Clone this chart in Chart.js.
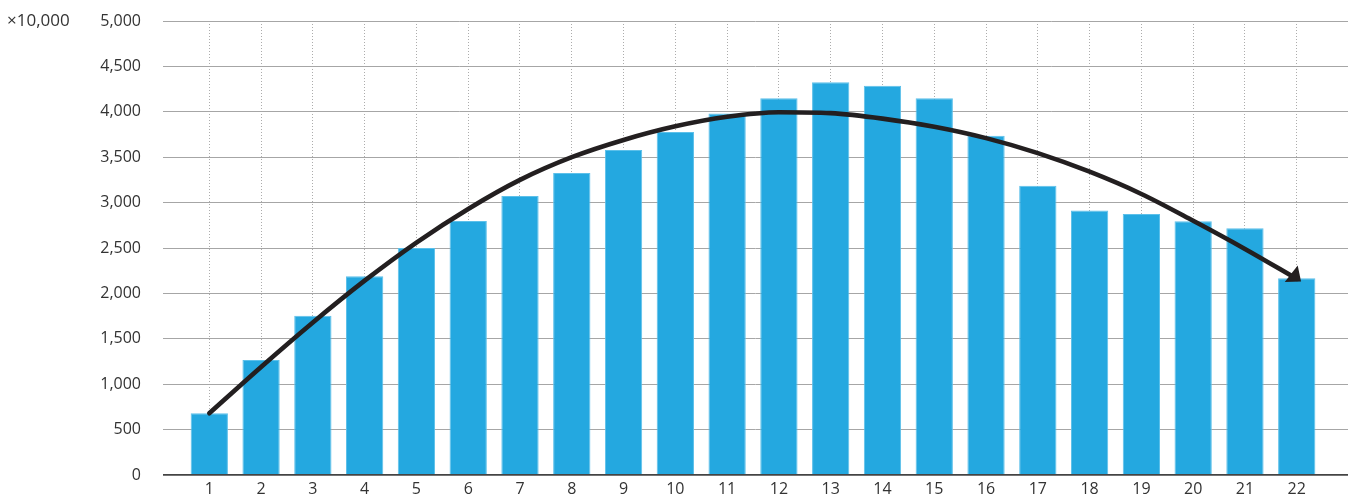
<!DOCTYPE html>
<html>
<head>
<meta charset="utf-8">
<script src="https://cdn.jsdelivr.net/npm/chart.js@4/dist/chart.umd.min.js"></script>
<style>
  html, body { margin: 0; padding: 0; background: #ffffff; }
  #wrap { position: relative; width: 1354px; height: 497px; }
</style>
</head>
<body>
<div id="wrap"><canvas id="chart" width="1354" height="497"></canvas></div>
<script>
// Categories along the x axis
const categories = ['1','2','3','4','5','6','7','8','9','10','11','12','13','14','15','16','17','18','19','20','21','22'];
// Bar heights (unit: ×10,000)
const barValues = [680, 1266, 1755, 2188, 2500, 2797, 3073, 3326, 3579, 3778, 3980, 4150, 4325, 4288, 4150, 3737, 3186, 2913, 2874, 2794, 2717, 2166];
// Trend curve drawn over the bars, one value per category
const trendValues = [680, 1190, 1680, 2140, 2560, 2930, 3250, 3500, 3690, 3840, 3945, 3995, 3985, 3925, 3835, 3710, 3545, 3340, 3095, 2800, 2490, 2160];
// Value axis
const yMin = 0, yMax = 5000, yStep = 500;
const unitLabel = '×10,000';

const FONT = '"Open Sans", "Noto Sans", sans-serif';
const TEXT = '#333333';
const INK = '#231f20';

const barPoints = barValues.map((v, i) => ({ x: i + 1, y: v }));
const trendPoints = trendValues.map((v, i) => ({ x: i + 1, y: v }));

// Arrowhead at the end of the trend curve + unit caption
const decorations = {
  id: 'decorations',
  afterDatasetsDraw(chart) {
    const ctx = chart.ctx;
    const meta = chart.getDatasetMeta(0);
    const pts = meta.data;
    const p = pts[pts.length - 1];
    let dx = p.x - (p.cp1x !== undefined ? p.cp1x : pts[pts.length - 2].x);
    let dy = p.y - (p.cp1y !== undefined ? p.cp1y : pts[pts.length - 2].y);
    const len = Math.hypot(dx, dy) || 1;
    dx /= len; dy /= len;
    // turn the head slightly downward so it follows the bend of the curve
    const a = 0.14;
    const rx = dx * Math.cos(a) - dy * Math.sin(a);
    const ry = dx * Math.sin(a) + dy * Math.cos(a);
    const tipX = p.x + dx * 5, tipY = p.y + dy * 5;
    const headLen = 12.5, half = 10.5;
    const bx = tipX - rx * headLen, by = tipY - ry * headLen;
    ctx.save();
    ctx.fillStyle = INK;
    ctx.beginPath();
    ctx.moveTo(tipX, tipY);
    ctx.lineTo(bx - ry * half, by + rx * half);
    ctx.lineTo(bx + ry * half, by - rx * half);
    ctx.closePath();
    ctx.fill();
    ctx.restore();
  },
  afterDraw(chart) {
    const ctx = chart.ctx;
    const yScale = chart.scales.y;
    ctx.save();
    ctx.font = '17px ' + FONT;
    ctx.fillStyle = TEXT;
    ctx.textAlign = 'left';
    ctx.textBaseline = 'middle';
    ctx.fillText(unitLabel, 7, yScale.getPixelForValue(yMax));
    ctx.restore();
  }
};

new Chart(document.getElementById('chart'), {
  type: 'bar',
  data: {
    datasets: [
      {
        type: 'line',
        label: 'trend',
        data: trendPoints,
        borderColor: INK,
        borderWidth: 4.6,
        borderCapStyle: 'round',
        borderJoinStyle: 'round',
        cubicInterpolationMode: 'monotone',
        pointRadius: 0,
        fill: false,
        order: 1
      },
      {
        type: 'bar',
        label: 'value',
        data: barPoints,
        backgroundColor: '#24a8e0',
        borderColor: '#5cc0ea',
        borderWidth: 1,
        borderSkipped: 'bottom',
        barPercentage: 0.72,
        categoryPercentage: 1.0,
        order: 2
      }
    ]
  },
  options: {
    responsive: false,
    animation: false,
    events: [],
    layout: { padding: { left: 0, right: 6, top: 21, bottom: 0 } },
    plugins: {
      legend: { display: false },
      tooltip: { enabled: false },
      title: { display: false }
    },
    scales: {
      x: {
        type: 'linear',
        min: 0.106,
        max: 22.99,
        offset: false,
        border: { display: false, dash: [1, 2] },
        grid: {
          display: true,
          offset: false,
          drawTicks: false,
          color: '#acacac',
          lineWidth: 1
        },
        ticks: {
          stepSize: 1,
          includeBounds: false,
          autoSkip: false,
          maxRotation: 0,
          padding: 5,
          color: TEXT,
          font: { family: FONT, size: 16 },
          callback: (v) => categories[v - 1] !== undefined ? categories[v - 1] : ''
        },
        afterBuildTicks(scale) {
          scale.ticks = categories.map((c, i) => ({ value: i + 1 }));
        },
        afterFit(scale) {
          scale.height = 22;
          scale.paddingLeft = 0;
          scale.paddingRight = 0;
        }
      },
      y: {
        min: yMin,
        max: yMax,
        border: { display: false },
        grid: {
          drawTicks: false,
          color: (ctx) => (ctx.tick && ctx.tick.value === 0) ? '#444444' : '#a6a6a6',
          lineWidth: (ctx) => (ctx.tick && ctx.tick.value === 0) ? 1.8 : 1
        },
        ticks: {
          stepSize: yStep,
          padding: 22,
          color: TEXT,
          font: { family: FONT, size: 16 },
          callback: (v) => v.toLocaleString('en-US')
        },
        afterFit(scale) {
          scale.width = 163;
          scale.paddingTop = 0;
          scale.paddingBottom = 0;
        }
      }
    }
  },
  plugins: [decorations]
});
</script>
</body>
</html>
